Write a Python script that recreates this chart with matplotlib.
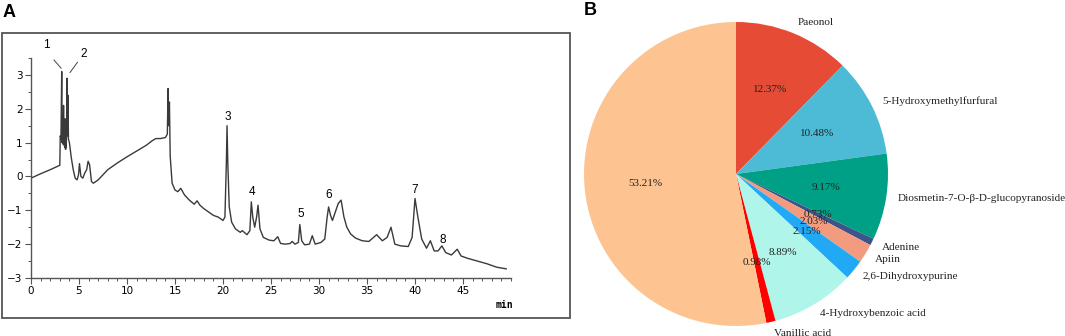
import matplotlib
matplotlib.use("Agg")
import matplotlib.pyplot as plt
from matplotlib.patches import Rectangle
from matplotlib.ticker import MultipleLocator

# --- panel A: chromatogram trace ---
time_min = [0, 1, 2, 3.0, 3.05, 3.12, 3.2, 3.24, 3.27, 3.3, 3.33, 3.36, 3.39, 3.42,
            3.45, 3.48, 3.51, 3.54, 3.57, 3.6, 3.63, 3.66, 3.7, 3.75, 3.8, 3.85, 3.9,
            4.0, 4.2, 4.4, 4.6, 4.8, 4.95, 5.05, 5.2,
            5.4, 5.6, 5.8, 5.95, 6.1, 6.3, 6.5, 7, 8, 9, 10, 11, 12, 12.6, 13.0, 13.5,
            14.0, 14.2, 14.28, 14.35, 14.42, 14.5, 14.7, 15.0, 15.3, 15.6, 16.0, 16.5,
            17.0, 17.3, 17.6, 18.0, 18.5, 19.0, 19.5, 20.0, 20.2, 20.35, 20.42, 20.5,
            20.65, 20.9, 21.3, 21.8, 22.0, 22.5, 22.8, 22.95, 23.1, 23.3, 23.5, 23.65,
            23.85, 24.2, 24.8, 25.3, 25.7, 26.0, 26.5, 27.0, 27.2, 27.5, 27.85, 28.0,
            28.2, 28.5, 29.0, 29.3, 29.6, 30.2, 30.6, 30.85, 31.0, 31.2, 31.4, 31.7,
            32.0, 32.3, 32.6, 32.9, 33.3, 33.8, 34.5, 35.2, 36.0, 36.6, 37.1, 37.5,
            37.9, 38.5, 39.3, 39.7, 40.0, 40.3, 40.7, 41.2, 41.6, 42.0, 42.4, 42.8,
            43.2, 43.8, 44.4, 44.8, 45.5, 46.5, 47.5, 48.5, 49.5]
signal = [-0.05, 0.08, 0.2, 0.33, 1.2, 1.1, 3.1, 1.0, 1.8, 1.1, 1.6, 0.95, 2.1, 1.0,
          1.7, 0.9, 1.6, 0.85, 1.5, 0.8, 1.7, 0.85, 1.2, 2.9, 1.2, 2.4, 1.1,
          1.0, 0.55, 0.2, -0.05, -0.1, 0.05, 0.38, 0.0,
          -0.05, 0.1, 0.2, 0.45, 0.35, -0.15, -0.2, -0.1, 0.2, 0.4, 0.58, 0.75, 0.92,
          1.05, 1.12, 1.12, 1.15, 1.25, 2.6, 1.5, 2.2, 0.6, -0.2, -0.4, -0.45, -0.35,
          -0.55, -0.7, -0.82, -0.72, -0.85, -0.95, -1.05, -1.15, -1.2, -1.3, -1.2, 0.4,
          1.5, 0.4, -0.9, -1.35, -1.55, -1.65, -1.6, -1.72, -1.6, -0.75, -1.2, -1.5,
          -1.2, -0.85, -1.55, -1.8, -1.88, -1.9, -1.78, -1.98, -2.0, -1.98, -1.92,
          -2.0, -1.95, -1.42, -1.9, -2.02, -2.0, -1.75, -2.0, -1.95, -1.85, -1.2,
          -0.9, -1.15, -1.3, -1.05, -0.8, -0.7, -1.2, -1.5, -1.7, -1.82, -1.9, -1.92,
          -1.72, -1.9, -1.8, -1.5, -2.0, -2.05, -2.07, -1.8, -0.65, -1.2, -1.85,
          -2.12, -1.9, -2.2, -2.2, -2.05, -2.25, -2.32, -2.15, -2.35, -2.42, -2.5,
          -2.58, -2.68, -2.73]

peak_ids = ["3", "4", "5", "6", "7", "8"]
peak_x = [20.45, 22.99, 28.1, 30.97, 40.0, 42.9]
peak_y = [1.77, -0.46, -1.10, -0.56, -0.39, -1.87]

# --- panel B: composition pie ---
compounds = ["Paeonol", "5-Hydroxymethylfurfural", "Diosmetin-7-O-β-D-glucopyranoside",
             "Adenine", "Apiin", "2,6-Dihydroxypurine", "4-Hydroxybenzoic acid",
             "Vanillic acid", ""]
shares = [12.37, 10.48, 9.17, 0.73, 2.03, 2.15, 8.89, 0.98, 53.21]
colors = ["#E64B35", "#4DBBD5", "#00A087", "#3C5488", "#F39B7F", "#22A9F5",
          "#B0F5EA", "#FF0000", "#FDC492"]

W, H = 1065, 336
fig = plt.figure(figsize=(W / 100, H / 100), dpi=100)

# outer frame around the chromatogram
fig.patches.append(Rectangle((2 / W, 1 - 318 / H), 568 / W, 285 / H,
                             transform=fig.transFigure, fill=False,
                             edgecolor="#555555", linewidth=1.3))

ax = fig.add_axes([31 / W, 1 - 278 / H, 480 / W, 220 / H])
ax.plot(time_min, signal, color="#3a3a3a", linewidth=1.0)
ax.set_xlim(0, 50)
ax.set_ylim(-3, 3.5)
for s in ("top", "right"):
    ax.spines[s].set_visible(False)
for s in ("left", "bottom"):
    ax.spines[s].set_color("#555555")
    ax.spines[s].set_linewidth(1.0)
ax.spines["left"].set_bounds(-3, 3.5)
ax.set_xticks(range(0, 50, 5))
ax.set_yticks(range(-3, 4))
ax.xaxis.set_minor_locator(MultipleLocator(1))
ax.yaxis.set_minor_locator(MultipleLocator(0.5))
ax.tick_params(which="major", length=4, width=0.8, color="#555555",
               labelsize=7.5, pad=2)
ax.tick_params(which="minor", length=2, width=0.7, color="#555555")
ax.patch.set_alpha(0)

for lab, px, py in zip(peak_ids, peak_x, peak_y):
    ax.text(px, py, lab, ha="center", va="center", fontsize=8.5,
            family="Liberation Sans")
ax.text(1.63, 3.88, "1", ha="center", va="center", fontsize=8.5,
        family="Liberation Sans", clip_on=False)
ax.text(5.45, 3.62, "2", ha="center", va="center", fontsize=8.5,
        family="Liberation Sans", clip_on=False)
ax.plot([2.4, 3.13], [3.44, 3.2], color="#444444", linewidth=0.7, clip_on=False)
ax.plot([4.83, 4.06], [3.37, 3.07], color="#444444", linewidth=0.7, clip_on=False)
ax.text(49.3, -3.8, "min", ha="center", va="center", fontsize=7,
        family="DejaVu Sans Mono", fontweight="bold", clip_on=False)

# pie axes: centre (736,174) px, radius 152 px
r = 152
pax = fig.add_axes([(736 - r) / W, (H - 174 - r) / H, 2 * r / W, 2 * r / H])
wedges, texts, autotexts = pax.pie(
    shares, labels=compounds, colors=colors, startangle=90, counterclock=False,
    autopct="%1.2f%%", pctdistance=0.6, labeldistance=1.075,
    wedgeprops=dict(linewidth=0),
    textprops=dict(family="Liberation Serif", color="#222222"))
for t in texts:
    t.set_fontsize(8.1)
for t, v in zip(autotexts, shares):
    t.set_text(f"{v:.2f}%")
    t.set_fontsize(8)
pax.set_xlim(-1, 1)
pax.set_ylim(-1, 1)

fig.text(3 / W, 1 - 4 / H, "A", ha="left", va="top", fontsize=13,
         fontweight="bold", family="Liberation Sans")
fig.text(584 / W, 1 - 2 / H, "B", ha="left", va="top", fontsize=13,
         fontweight="bold", family="Liberation Sans")

fig.savefig("out.png", dpi=100)
